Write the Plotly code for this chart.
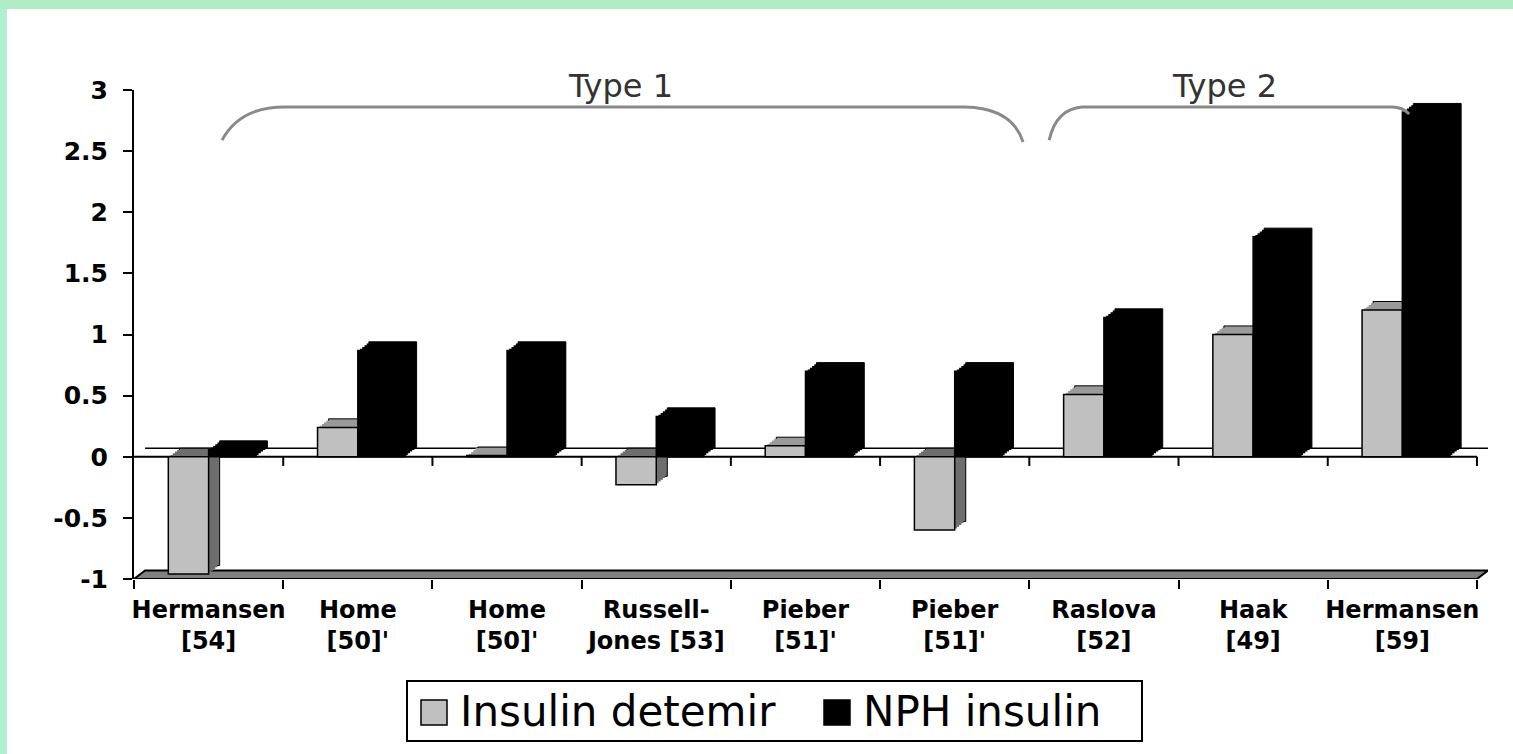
import plotly.graph_objects as go

# ---------------- data ----------------
CATEGORIES = ["Hermansen<br>[54]", "Home<br>[50]'", "Home<br>[50]'", "Russell-<br>Jones [53]",
              "Pieber<br>[51]'", "Pieber<br>[51]'", "Raslova<br>[52]", "Haak<br>[49]", "Hermansen<br>[59]"]
DETEMIR = [-0.96, 0.24, 0.01, -0.23, 0.09, -0.60, 0.51, 1.00, 1.20]
NPH = [0.06, 0.87, 0.87, 0.33, 0.70, 0.70, 1.14, 1.80, 2.82]
Y_TICKS = [3, 2.5, 2, 1.5, 1, 0.5, 0, -0.5, -1]
Y_TICK_TEXT = ["3", "2.5", "2", "1.5", "1", "0.5", "0", "-0.5", "-1"]
SERIES_NAMES = ["Insulin detemir", "NPH insulin"]
GROUP_LABELS = ["Type 1", "Type 2"]

# ---------------- geometry / style ----------------
W, H = 1513, 754
ML, MR, MT, MB = 134, 25, 90, 175
DX, DY = 0.074, 0.07          # pseudo 3-D depth in axis units
GW, BW = 0.27, 0.32           # bar widths (axis units)
X0, X1 = -0.5, len(CATEGORIES) - 0.5
Y0, Y1 = -1, 3
DEPTH_LEVELS = [1.0, 0.8, 0.6, 0.4, 0.2, 0.0]   # last one = front face

GREEN = "#b0edc4"
GREEN_LEFT = "#b0efd2"
GREY = "#c0c0c0"
GREY_TOP = "#9a9a9a"
GREY_SIDE = "#6e6e6e"
BRACE = "#8a8a8a"

PW, PH = W - ML - MR, H - MT - MB


def pxx(x):
    return (x - ML) / PW


def pxy(y):
    return (H - MB - y) / PH


idx = list(range(len(CATEGORIES)))
n_lv = len(DEPTH_LEVELS)
axis_names = [("x", "y") if k == 0 else (f"x{k + 1}", f"y{k + 1}") for k in range(n_lv)]
FX, FY = axis_names[-1]

fig = go.Figure()
for k, f in enumerate(DEPTH_LEVELS):
    xa, ya = axis_names[k]
    front = (k == n_lv - 1)
    deepest = (k == 0)
    if front:
        gcol, glw, blw = GREY, 1.5, 1.5
    else:
        gcol = [GREY_TOP if v >= 0 else GREY_SIDE for v in DETEMIR]
        glw = 1 if deepest else 0
        blw = 1 if deepest else 0
    fig.add_trace(go.Bar(x=idx, y=DETEMIR, xaxis=xa, yaxis=ya, offset=-GW, width=GW,
                         name=SERIES_NAMES[0],
                         marker=dict(color=gcol, line=dict(color="black", width=glw)),
                         showlegend=False, hoverinfo=None if front else "skip"))
    fig.add_trace(go.Bar(x=idx, y=NPH, xaxis=xa, yaxis=ya, offset=0, width=BW,
                         name=SERIES_NAMES[1],
                         marker=dict(color="black", line=dict(color="black", width=blw)),
                         showlegend=False, hoverinfo=None if front else "skip"))

boundaries = [i - 0.5 for i in range(len(CATEGORIES) + 1)]

shapes = []
# green frame (top and left strips)
shapes.append(dict(type="rect", xref="paper", yref="paper", x0=pxx(-5), x1=pxx(W + 5),
                   y0=pxy(9), y1=pxy(-5), fillcolor=GREEN, line=dict(width=0), layer="below"))
shapes.append(dict(type="rect", xref="paper", yref="paper", x0=pxx(-5), x1=pxx(7),
                   y0=pxy(H + 5), y1=pxy(9), fillcolor=GREEN_LEFT, line=dict(width=0), layer="below"))
# floor slab
shapes.append(dict(type="path", xref=FX, yref=FY, layer="below",
                   path=f"M {X0},{Y0} L {X1},{Y0} L {X1 + DX},{Y0 + DY} L {X0 + DX},{Y0 + DY} Z",
                   fillcolor="#808080", line=dict(color="black", width=2)))
# back zero line
shapes.append(dict(type="line", xref="x", yref="y", x0=X0, x1=X1, y0=0, y1=0,
                   line=dict(color="black", width=1.5), layer="below"))
# front zero line + ticks
shapes.append(dict(type="line", xref=FX, yref=FY, x0=X0, x1=X1, y0=0, y1=0,
                   line=dict(color="black", width=2), layer="below"))
for b in boundaries[1:]:
    shapes.append(dict(type="line", xref=FX, yref=FY, x0=b, x1=b, y0=0, y1=-0.075,
                       line=dict(color="black", width=2), layer="below"))

# group braces
shapes.append(dict(type="path", xref=FX, yref=FY,
                   path="M 0.09,2.59 Q 0.21,2.861 0.51,2.861 L 5.07,2.861 Q 5.385,2.853 5.458,2.575",
                   line=dict(color=BRACE, width=3)))
shapes.append(dict(type="path", xref=FX, yref=FY,
                   path="M 5.633,2.59 Q 5.68,2.845 5.854,2.861 L 7.932,2.861 Q 7.999,2.861 8.046,2.804",
                   line=dict(color=BRACE, width=3)))

# custom legend
shapes.append(dict(type="rect", xref="paper", yref="paper", x0=pxx(407), x1=pxx(1142),
                   y0=pxy(741), y1=pxy(681), fillcolor="white", line=dict(color="black", width=2)))
shapes.append(dict(type="rect", xref="paper", yref="paper", x0=pxx(421), x1=pxx(447),
                   y0=pxy(725), y1=pxy(700), fillcolor=GREY, line=dict(color="black", width=1.5)))
shapes.append(dict(type="rect", xref="paper", yref="paper", x0=pxx(824), x1=pxx(850),
                   y0=pxy(725), y1=pxy(700), fillcolor="black", line=dict(color="black", width=1.5)))

annotations = [
    dict(text=GROUP_LABELS[0], xref="paper", yref="paper", x=pxx(620), y=pxy(86),
         xanchor="center", yanchor="middle",
         showarrow=False, font=dict(family="DejaVu Sans", size=32, color="#333333")),
    dict(text=GROUP_LABELS[1], xref="paper", yref="paper", x=pxx(1224), y=pxy(86),
         xanchor="center", yanchor="middle",
         showarrow=False, font=dict(family="DejaVu Sans", size=32, color="#333333")),
    dict(text=SERIES_NAMES[0], xref="paper", yref="paper", x=pxx(458), y=pxy(711),
         xanchor="left", yanchor="middle",
         showarrow=False, font=dict(family="DejaVu Sans", size=42, color="black")),
    dict(text=SERIES_NAMES[1], xref="paper", yref="paper", x=pxx(861), y=pxy(711),
         xanchor="left", yanchor="middle",
         showarrow=False, font=dict(family="DejaVu Sans", size=42, color="black")),
]

layout_axes = {}
for k, f in enumerate(DEPTH_LEVELS):
    xa, ya = axis_names[k]
    xkey = "xaxis" if k == 0 else f"xaxis{k + 1}"
    ykey = "yaxis" if k == 0 else f"yaxis{k + 1}"
    xr = [X0 - f * DX, X1 + DX - f * DX]
    yr = [Y0 - f * DY, Y1 - f * DY]
    if k == 0:
        layout_axes[xkey] = dict(range=xr, visible=False)
        layout_axes[ykey] = dict(range=yr, visible=False)
    elif k < n_lv - 1:
        layout_axes[xkey] = dict(range=xr, visible=False, overlaying="x", anchor=ya)
        layout_axes[ykey] = dict(range=yr, visible=False, overlaying="y", anchor=xa)
    else:
        layout_axes[xkey] = dict(
            overlaying="x", anchor=ya, range=xr,
            tickmode="array", tickvals=idx, ticktext=CATEGORIES,
            ticks="outside", ticklen=9, tickcolor="rgba(0,0,0,0)",
            showline=False, showgrid=False, zeroline=False,
            tickfont=dict(family="DejaVu Sans", size=24, color="black", weight="bold"),
            minor=dict(tickmode="array", tickvals=boundaries, ticks="outside",
                       ticklen=9, tickwidth=2, tickcolor="black", showgrid=False))
        layout_axes[ykey] = dict(
            overlaying="y", anchor=xa, side="left", range=yr,
            tickmode="array", tickvals=Y_TICKS, ticktext=Y_TICK_TEXT,
            ticks="outside", ticklen=9, tickwidth=2, tickcolor="black",
            showline=True, linewidth=2, linecolor="black",
            showgrid=False, zeroline=False, ticklabelstandoff=10,
            tickfont=dict(family="DejaVu Sans", size=25, color="black", weight="bold"))

fig.update_layout(
    width=W, height=H,
    margin=dict(l=ML, r=MR, t=MT, b=MB),
    paper_bgcolor="white", plot_bgcolor="white",
    barmode="overlay", showlegend=False,
    shapes=shapes,
    annotations=annotations,
    **layout_axes,
)

fig.write_html("out.html", config={"displayModeBar": False},
               post_script="document.body.style.margin='0';document.body.style.overflow='hidden';")
